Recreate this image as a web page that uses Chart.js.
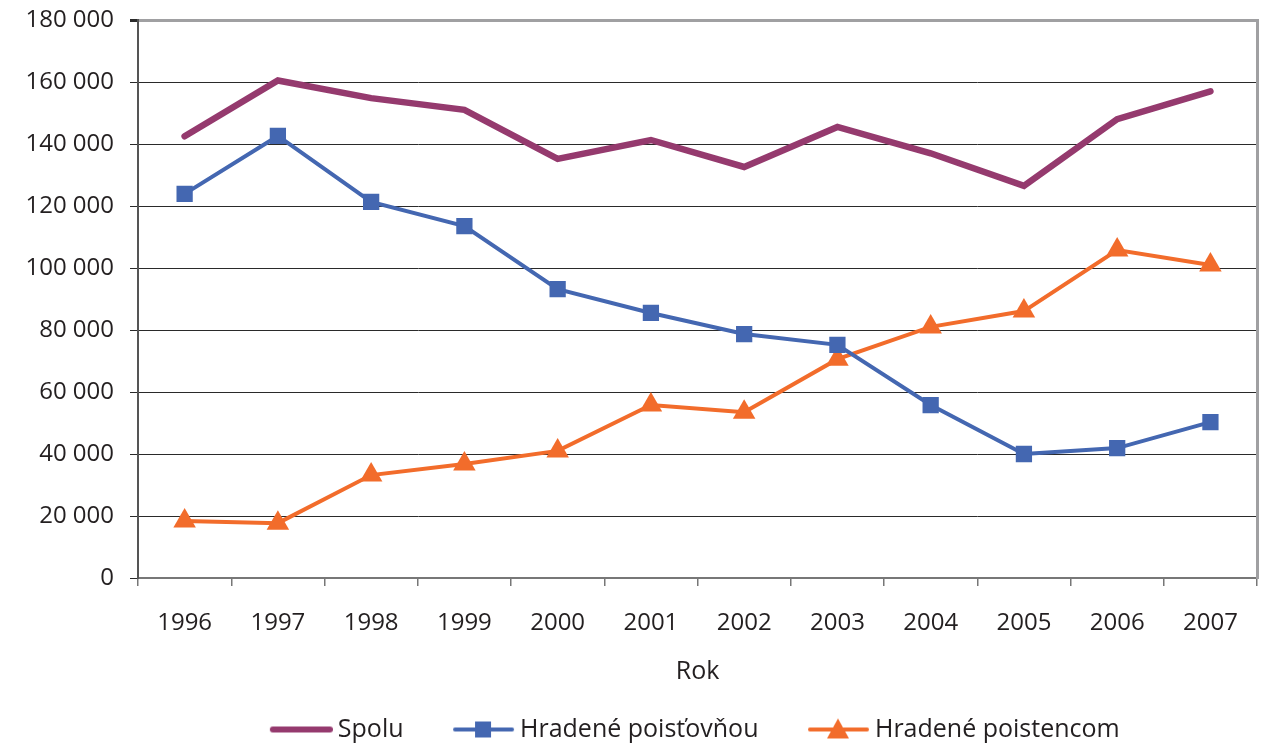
<!DOCTYPE html>
<html>
<head>
<meta charset="utf-8">
<script src="https://cdn.jsdelivr.net/npm/chart.js@4/dist/chart.umd.min.js"></script>
<style>
  html, body { margin: 0; padding: 0; background: #fff; }
  #wrap { width: 1261px; height: 746px; }
</style>
</head>
<body>
<div id="wrap"><canvas id="lineChart"></canvas></div>
<script>
"use strict";

// data
const years = ['1996', '1997', '1998', '1999', '2000', '2001', '2002', '2003', '2004', '2005', '2006', '2007'];
const spolu = [142500, 160500, 154800, 151000, 135200, 141300, 132600, 145500, 137000, 126500, 148000, 157000];
const poistovna = [123900, 142600, 121300, 113500, 93200, 85500, 78700, 75200, 55800, 40000, 41900, 50300];
const poistenec = [18400, 17700, 33200, 36800, 41000, 55800, 53500, 70600, 81000, 86100, 105800, 101000];
const seriesNames = ['Spolu', 'Hradené poisťovňou', 'Hradené poistencom'];
const yMax = 180000;
const yStep = 20000;

const FONT = 'Open Sans';
const TEXT = '#231f20';
const PURPLE = '#953a6e';
const BLUE = '#4467b1';
const ORANGE = '#f26c2b';

// legend sample: short line with marker, drawn to a small canvas
function legendSample(color, width, marker) {
    const c = document.createElement('canvas');
    c.width = 119;
    c.height = 26;
    const ctx = c.getContext('2d');
    ctx.strokeStyle = color;
    ctx.fillStyle = color;
    ctx.lineWidth = width;
    ctx.lineCap = 'round';
    ctx.beginPath();
    ctx.moveTo(59, 13);
    ctx.lineTo(116, 13);
    ctx.stroke();
    if (marker === 'rect') {
        ctx.fillRect(79, 5, 16, 16);
    } else if (marker === 'triangle') {
        ctx.beginPath();
        ctx.moveTo(87, 2);
        ctx.lineTo(98, 22);
        ctx.lineTo(76, 22);
        ctx.closePath();
        ctx.fill();
    }
    return c;
}
const samples = [
    legendSample(PURPLE, 6, null),
    legendSample(BLUE, 4, 'rect'),
    legendSample(ORANGE, 4, 'triangle')
];

// nudge the legend row a little left and down
const legendShift = {
    id: 'legendShift',
    afterLayout(chart) {
        const lg = chart.legend;
        lg.left -= 27;
        lg.right -= 27;
        lg.top += 6;
        lg.bottom += 6;
    }
};

const ctx = document.getElementById('lineChart');
new Chart(ctx, {
    type: 'line',
    data: {
        labels: years,
        datasets: [{
            label: seriesNames[0],
            data: spolu,
            borderColor: PURPLE,
            backgroundColor: PURPLE,
            borderWidth: 6.5,
            pointRadius: 0,
            borderCapStyle: 'round',
            tension: 0
        }, {
            label: seriesNames[1],
            data: poistovna,
            borderColor: BLUE,
            backgroundColor: BLUE,
            borderWidth: 4,
            pointStyle: 'rect',
            pointRadius: 11.5,
            pointBorderWidth: 0,
            tension: 0
        }, {
            label: seriesNames[2],
            data: poistenec,
            borderColor: ORANGE,
            backgroundColor: ORANGE,
            borderWidth: 4,
            pointStyle: 'triangle',
            pointRadius: 13,
            pointBorderWidth: 0,
            tension: 0
        }]
    },
    options: {
        responsive: true,
        maintainAspectRatio: false,
        animation: false,
        layout: { autoPadding: false, padding: { top: 20, right: 3, left: 0, bottom: 0 } },
        plugins: {
            tooltip: { enabled: false },
            legend: {
                position: 'bottom',
                fullSize: false,
                labels: {
                    font: { family: FONT, size: 25 },
                    color: TEXT,
                    usePointStyle: true,
                    pointStyleWidth: 104,
                    padding: 0,
                    generateLabels(chart) {
                        const items = Chart.defaults.plugins.legend.labels.generateLabels(chart);
                        items.forEach((it, i) => { it.pointStyle = samples[i]; });
                        return items;
                    }
                }
            }
        },
        scales: {
            x: {
                offset: true,
                grid: { offset: true, drawOnChartArea: false, tickLength: 8, color: '#777', lineWidth: 1.5 },
                border: { color: '#777', width: 2 },
                ticks: { font: { family: FONT, size: 24 }, color: TEXT, padding: 23, maxRotation: 0 },
                title: { display: true, text: 'Rok', font: { family: FONT, size: 25 }, color: TEXT, padding: { top: 14, bottom: 24 } },
                afterFit(scale) { scale.height = 133; }
            },
            y: {
                min: 0,
                max: yMax,
                grid: {
                    color: c => (c.tick && c.tick.value === yMax ? '#a0a0a2' : '#2a2a2a'),
                    lineWidth: c => (c.tick && c.tick.value === yMax ? 3 : 1),
                    tickColor: '#2a2a2a',
                    tickLength: 8
                },
                border: { color: '#555', width: 2 },
                ticks: {
                    stepSize: yStep,
                    font: { family: FONT, size: 24 },
                    color: TEXT,
                    padding: 16,
                    callback: v => String(v).replace(/\B(?=(\d{3})+(?!\d))/g, ' ')
                },
                afterFit(scale) {
                    scale.width = 138;
                    scale.paddingTop = 0;
                    scale.paddingBottom = 0;
                }
            },
            // empty right axis: draws the right frame line
            y2: {
                position: 'right',
                min: 0,
                max: yMax,
                grid: { drawOnChartArea: false, drawTicks: false },
                border: { color: '#a0a0a2', width: 3 },
                ticks: { display: false },
                afterFit(scale) {
                    scale.width = 0;
                    scale.paddingTop = 0;
                    scale.paddingBottom = 0;
                }
            }
        }
    },
    plugins: [legendShift]
});
</script>
</body>
</html>
